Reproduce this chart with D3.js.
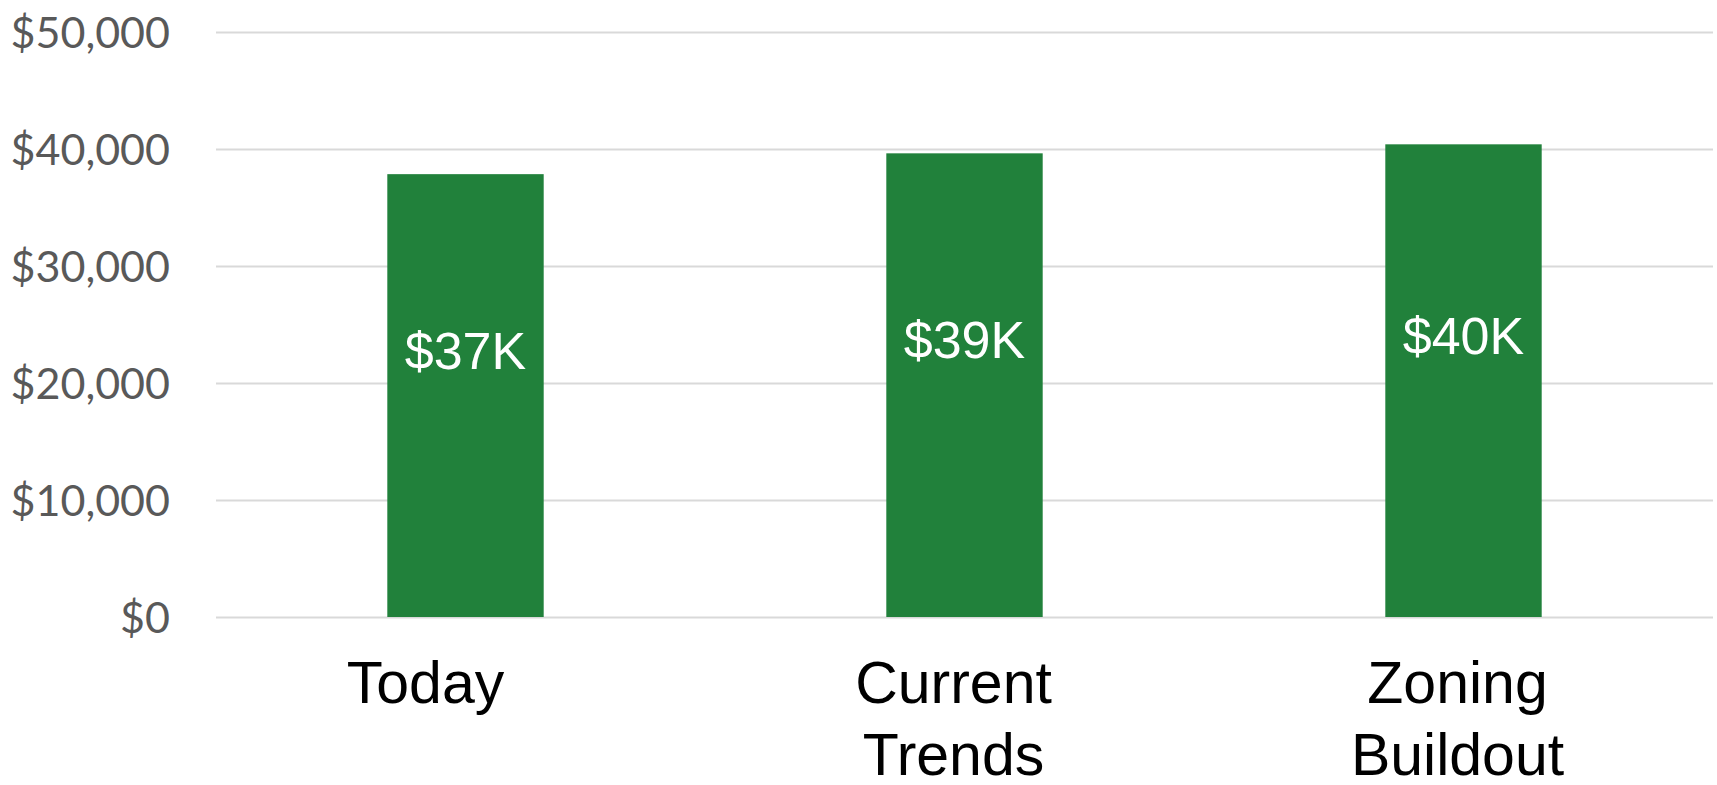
<!DOCTYPE html>
<html>
<head>
<meta charset="utf-8">
<script src="https://cdn.jsdelivr.net/npm/d3@7"></script>
<style>
  html, body { margin: 0; padding: 0; background: #ffffff; }
  svg { display: block; }
</style>
</head>
<body>
<svg id="chart" width="1717" height="785"></svg>
<script>
// ---- data ----
const categories = ["Today", "Current Trends", "Zoning Buildout"];
const categoryLines = [["Today"], ["Current", "Trends"], ["Zoning", "Buildout"]];
const values = [37850, 39630, 40400];
const valueLabels = ["$37K", "$39K", "$40K"];
const yTicks = [0, 10000, 20000, 30000, 40000, 50000];

// ---- layout ----
const W = 1717, H = 785;
const plot = { left: 216, right: 1713, top: 32, bottom: 617 };
const barColor = "#21813B";
const gridColor = "#D9D9D9";
const labelNudge = { "Today": -40, "Current Trends": -11, "Zoning Buildout": -6 };

const svg = d3.select("#chart");

const x = d3.scaleBand()
  .domain(categories)
  .range([plot.left, plot.right])
  .paddingInner(0.6866)
  .paddingOuter(0.3433);

const y = d3.scaleLinear()
  .domain([0, 50000])
  .range([plot.bottom, plot.top]);

const fmt = v => "$" + d3.format(",")(v);

// gridlines + y labels via axis
const yAxis = d3.axisLeft(y)
  .tickValues(yTicks)
  .tickSize(-(plot.right - plot.left))
  .tickPadding(46)
  .tickFormat(fmt);

const gy = svg.append("g")
  .attr("transform", `translate(${plot.left},0)`)
  .call(yAxis);
gy.select(".domain").remove();
gy.selectAll(".tick line")
  .attr("stroke", gridColor)
  .attr("stroke-width", 2);
gy.selectAll(".tick text")
  .attr("fill", "#595959")
  .style("font-family", "Lato, 'Noto Sans', sans-serif")
  .style("font-size", "43px")
  .attr("dy", "0.36em");

// bars
const data = categories.map((c, i) => ({ c, v: values[i], label: valueLabels[i], lines: categoryLines[i] }));

svg.append("g").selectAll("rect")
  .data(data)
  .join("rect")
  .attr("x", d => x(d.c))
  .attr("y", d => y(d.v))
  .attr("width", x.bandwidth())
  .attr("height", d => y(0) - y(d.v))
  .attr("fill", barColor);

// value labels
svg.append("g").selectAll("text")
  .data(data)
  .join("text")
  .attr("x", d => x(d.c) + x.bandwidth() / 2)
  .attr("y", d => (y(d.v) + y(0)) / 2 - 45 + 18)
  .attr("text-anchor", "middle")
  .attr("fill", "#ffffff")
  .style("font-family", "'Liberation Sans', Arial, sans-serif")
  .style("font-size", "52px")
  .text(d => d.label);

// category labels
const gx = svg.append("g");
data.forEach(d => {
  const cx = x(d.c) + x.bandwidth() / 2 + (labelNudge[d.c] || 0);
  const t = gx.append("text")
    .attr("x", cx)
    .attr("y", 703)
    .attr("text-anchor", "middle")
    .attr("fill", "#000000")
    .style("font-family", "'Liberation Sans', Arial, sans-serif")
    .style("font-size", "59px");
  d.lines.forEach((ln, i) => {
    t.append("tspan")
      .attr("x", cx)
      .attr("dy", i === 0 ? 0 : 72)
      .text(ln);
  });
});
</script>
</body>
</html>
